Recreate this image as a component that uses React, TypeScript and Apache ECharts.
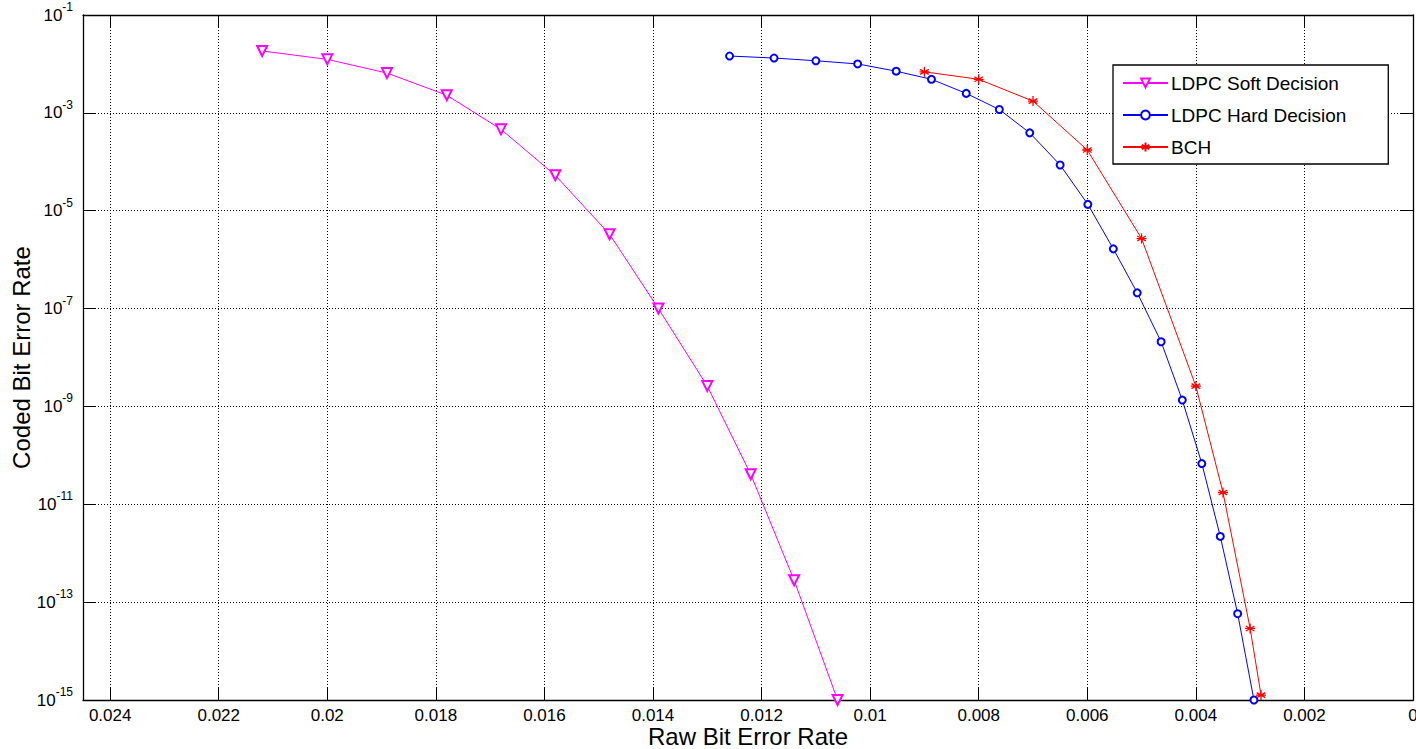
import React, { useEffect, useRef } from "react";
import * as echarts from "echarts";

// Raw BER (x) and coded BER (y)
const softX = [0.0212, 0.0200, 0.0189, 0.0178, 0.0168, 0.0158, 0.0148, 0.0139, 0.0130, 0.0122, 0.0114, 0.0106];
const softY = [1.84e-2, 1.24e-2, 6.5e-3, 2.3e-3, 4.6e-4, 5.3e-5, 3.3e-6, 1.0e-7, 2.6e-9, 4.1e-11, 2.8e-13, 1e-15];

const hardX = [0.01259, 0.01177, 0.0110, 0.01023, 0.00952, 0.00887, 0.00823, 0.00762, 0.00706, 0.0065, 0.00599, 0.00552, 0.00508, 0.00464, 0.00425, 0.00389, 0.00355, 0.00323, 0.00293];
const hardY = [1.45e-2, 1.32e-2, 1.16e-2, 1.0e-2, 7.1e-3, 4.85e-3, 2.5e-3, 1.17e-3, 3.9e-4, 8.6e-5, 1.35e-5, 1.66e-6, 2.1e-7, 2.1e-8, 1.35e-9, 6.8e-11, 2.2e-12, 5.8e-14, 1e-15];

const bchX = [0.009, 0.008, 0.007, 0.006, 0.005, 0.004, 0.0035, 0.003, 0.0028];
const bchY = [6.9e-3, 4.85e-3, 1.74e-3, 1.74e-4, 2.7e-6, 2.6e-9, 1.74e-11, 2.9e-14, 1.26e-15];

const seriesNames = ["LDPC Soft Decision", "LDPC Hard Decision", "BCH"];
const xTickStep = 0.002;
const yMinExp = -15;
const yMaxExp = -1;
const yTickStepExp = 2;

const FONT = "Liberation Sans, Arial, sans-serif";
const STAR = "path://M0,-5L0,5M-4.33,-2.5L4.33,2.5M-4.33,2.5L4.33,-2.5M-5,0L5,0";

const toPts = (xs: number[], ys: number[]) =>
  xs.map((x, i) => [x, Math.log10(ys[i]) - yMinExp]);

export default function App() {
  const ref = useRef<HTMLDivElement>(null);
  useEffect(() => {
    if (!ref.current) return;
    const chart = echarts.init(ref.current, null, { renderer: "svg" });
    const gridLine = { show: true, lineStyle: { color: "#000", type: [1, 2] as any, width: 1 } };
    const axisLine = { show: true, onZero: false, lineStyle: { color: "#000", width: 1.3 } };
    const tick = { show: true, inside: true, length: 12, lineStyle: { color: "#000", width: 1 } };
    const xFmt = (v: number) => (Math.abs(v) < 1e-12 ? "0" : String(parseFloat(v.toFixed(4))));
    const yFmt = (v: number) => `{b|10}{s|${Math.round(v + yMinExp)}}`;
    const option: any = {
      animation: false,
      backgroundColor: "#fff",
      textStyle: { fontFamily: FONT },
      grid: { left: 83, right: 3, top: 15, bottom: 49, containLabel: false, outerBoundsMode: "none" },
      legend: {
        orient: "vertical",
        left: 1113,
        top: 65,
        padding: [8, 42, 7, 9],
        backgroundColor: "#fff",
        borderColor: "#000",
        borderWidth: 1.3,
        borderRadius: 0,
        itemWidth: 45,
        itemHeight: 11,
        itemGap: 12,
        textStyle: { fontFamily: FONT, fontSize: 19, color: "#000", lineHeight: 20, padding: [0, 0, 0, -2] },
        data: seriesNames,
      },
      xAxis: [
        {
          type: "value",
          inverse: true,
          min: 0,
          max: 0.0245,
          interval: xTickStep,
          name: "Raw Bit Error Rate",
          nameLocation: "middle",
          nameGap: 25,
          nameMoveOverlap: false,
          nameTextStyle: { fontFamily: FONT, fontSize: 24, lineHeight: 22, color: "#000" },
          axisLine,
          axisTick: tick,
          splitLine: gridLine,
          axisLabel: {
            formatter: xFmt,
            showMaxLabel: false,
            showMinLabel: true,
            fontFamily: FONT,
            fontSize: 17,
            lineHeight: 16,
            color: "#000",
            margin: 7,
          },
        },
        {
          type: "value",
          position: "top",
          inverse: true,
          min: 0,
          max: 0.0245,
          interval: xTickStep,
          axisLine,
          axisTick: tick,
          splitLine: { show: false },
          axisLabel: { show: false },
        },
      ],
      yAxis: [
        {
          type: "value",
          min: 0,
          max: yMaxExp - yMinExp,
          interval: yTickStepExp,
          name: "Coded Bit Error Rate",
          nameLocation: "middle",
          nameGap: 50,
          nameMoveOverlap: false,
          nameTextStyle: { fontFamily: FONT, fontSize: 24, lineHeight: 24, color: "#000" },
          axisLine,
          axisTick: tick,
          splitLine: gridLine,
          axisLabel: {
            formatter: yFmt,
            margin: 10,
            color: "#000",
            rich: {
              b: { fontFamily: FONT, fontSize: 17, color: "#000", lineHeight: 28, verticalAlign: "middle" },
              s: { fontFamily: FONT, fontSize: 12, color: "#000", lineHeight: 28, verticalAlign: "top" },
            },
          },
        },
        {
          type: "value",
          position: "right",
          min: 0,
          max: yMaxExp - yMinExp,
          interval: yTickStepExp,
          axisLine,
          axisTick: tick,
          splitLine: { show: false },
          axisLabel: { show: false },
        },
      ],
      series: [
        {
          name: seriesNames[0],
          type: "line",
          data: toPts(softX, softY),
          symbol: "emptyTriangle",
          symbolRotate: 180,
          symbolSize: 10,
          lineStyle: { color: "#ff00ff", width: 1 },
          itemStyle: { color: "#ff00ff", borderColor: "#ff00ff", borderWidth: 1 },
          z: 3,
        },
        {
          name: seriesNames[1],
          type: "line",
          data: toPts(hardX, hardY),
          symbol: "emptyCircle",
          symbolSize: 7,
          lineStyle: { color: "#0000ff", width: 1 },
          itemStyle: { color: "#0000ff", borderColor: "#0000ff", borderWidth: 1 },
          z: 3,
        },
        {
          name: seriesNames[2],
          type: "line",
          data: toPts(bchX, bchY),
          symbol: STAR,
          symbolSize: 10,
          lineStyle: { color: "#ff0000", width: 1 },
          itemStyle: { color: "#ff0000", borderColor: "#ff0000", borderWidth: 1.3 },
          z: 3,
        },
      ],
    };
    chart.setOption(option);
    return () => chart.dispose();
  }, []);
  return (
    <div
      ref={ref}
      style={{ position: "fixed", left: 0, top: 0, width: 1416, height: 749, background: "#fff" }}
    />
  );
}
